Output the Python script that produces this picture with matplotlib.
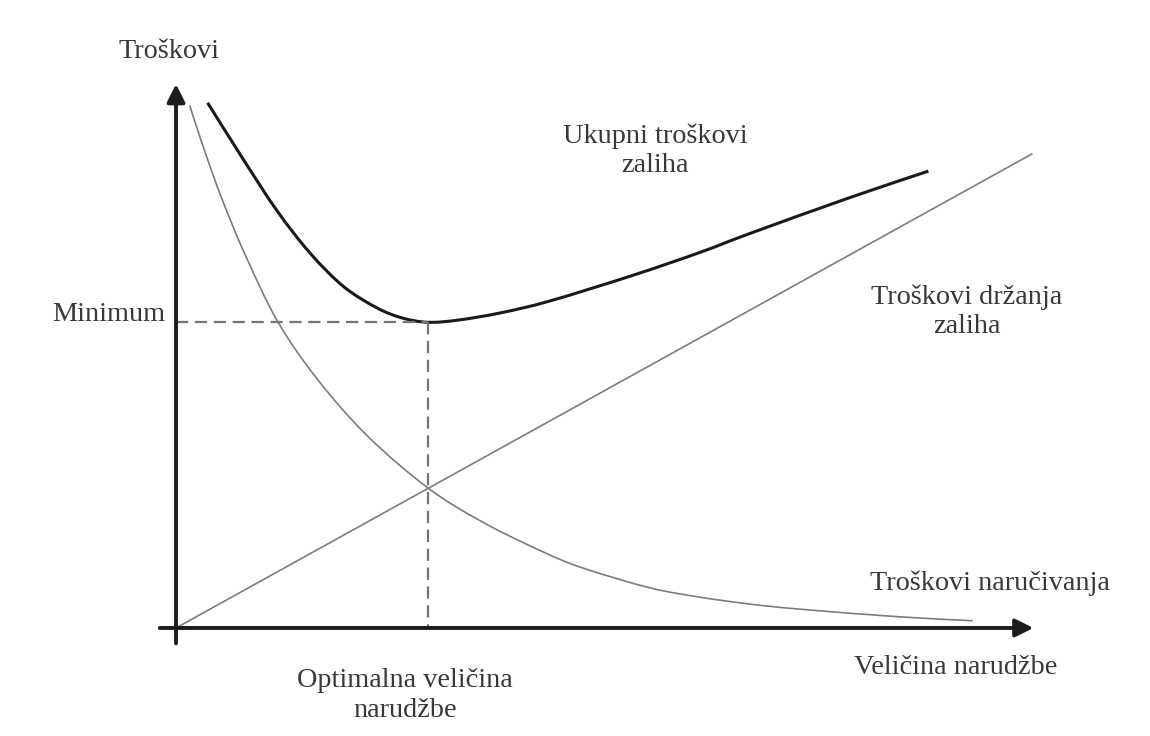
import matplotlib
matplotlib.use('Agg')
import matplotlib.pyplot as plt
from matplotlib.path import Path
from matplotlib.patches import PathPatch

# values (quantity on x, cost on y, axis length = 100)
q_naruc = [1.6, 3.2, 5.4, 8.1, 11.9, 16.5, 22.4, 29.5, 35.9, 43.0, 47.7, 55.5, 61.4, 67.2, 73.1, 84.8, 93.3]
c_naruc = [61.2, 56.3, 50.2, 43.7, 35.9, 29.2, 22.5, 16.4, 12.4, 8.9, 7.0, 4.7, 3.6, 2.8, 2.2, 1.3, 0.85]

q_drz = [0, 100.2]
c_drz = [0, 55.5]

q_ukup = [3.7, 7.8, 11.8, 15.7, 19.6, 23.5, 26.5, 29.5, 33.0, 38.0, 43.8, 53.5, 61.4, 67.2, 78.9, 88.1]
c_ukup = [61.5, 55.0, 48.9, 43.9, 40.0, 37.5, 36.3, 35.8, 36.05, 36.9, 38.3, 41.3, 44.0, 46.2, 50.4, 53.5]

q_opt = 29.5
c_min = 35.8

plt.rcParams['font.family'] = ['Liberation Serif', 'DejaVu Serif']
txt_col = '#383838'
fs = 20.3


def smooth_curve(xs, ys):
    # catmull-rom through the read points, drawn as bezier segments
    pts = list(zip(xs, ys))
    verts = [pts[0]]
    codes = [Path.MOVETO]
    n = len(pts)
    for i in range(n - 1):
        p0 = pts[i - 1] if i > 0 else pts[i]
        p1 = pts[i]
        p2 = pts[i + 1]
        p3 = pts[i + 2] if i + 2 < n else pts[i + 1]
        c1 = (p1[0] + (p2[0] - p0[0]) / 6, p1[1] + (p2[1] - p0[1]) / 6)
        c2 = (p2[0] - (p3[0] - p1[0]) / 6, p2[1] - (p3[1] - p1[1]) / 6)
        verts += [c1, c2, p2]
        codes += [Path.CURVE4] * 3
    return Path(verts, codes)


fig = plt.figure(figsize=(11.5, 7.36), dpi=100)
ax = fig.add_axes([0, 0, 1, 1])
ax.set_xlim(-20.61, 114.05)
ax.set_ylim(-12.65, 73.54)
ax.axis('off')

# axes with arrows
arr = dict(arrowstyle='-|>', lw=2.8, color='#1c1c1c', mutation_scale=27, shrinkA=0, shrinkB=0)
ax.annotate('', xy=(100.4, 0), xytext=(-1.9, 0), arrowprops=arr)
ax.annotate('', xy=(0, 63.7), xytext=(0, -1.8), arrowprops=arr)

# curves
ax.plot(q_drz, c_drz, color='#7c7c7c', lw=1.2)
ax.add_patch(PathPatch(smooth_curve(q_naruc, c_naruc), fill=False, edgecolor='#7c7c7c', lw=1.2))
ax.add_patch(PathPatch(smooth_curve(q_ukup, c_ukup), fill=False, edgecolor='#1a1a1a', lw=2.2,
                       capstyle='butt'))

# optimum guides
ax.plot([0, q_opt], [c_min, c_min], color='#747474', lw=1.6, linestyle=(0, (5.5, 3)))
ax.plot([q_opt, q_opt], [c_min, 0], color='#747474', lw=1.6, linestyle=(0, (5.5, 3)))

# labels
ax.text(-0.8, 67.55, 'Troškovi', fontsize=fs, color=txt_col, ha='center', va='center')
ax.text(-1.3, 36.75, 'Minimum', fontsize=fs, color=txt_col, ha='right', va='center')
ax.text(56.1, 55.85, 'Ukupni troškovi\nzaliha', fontsize=fs, color=txt_col,
        ha='center', va='center', linespacing=1.22)
ax.text(92.6, 37.0, 'Troškovi držanja\nzaliha', fontsize=fs, color=txt_col,
        ha='center', va='center', linespacing=1.22)
ax.text(81.3, 5.25, 'Troškovi naručivanja', fontsize=fs, color=txt_col, ha='left', va='center')
ax.text(79.4, -4.65, 'Veličina narudžbe', fontsize=fs, color=txt_col, ha='left', va='center')
ax.text(26.8, -7.9, 'Optimalna veličina\nnarudžbe', fontsize=fs, color=txt_col,
        ha='center', va='center', linespacing=1.22)

plt.savefig('out.png', dpi=100)
